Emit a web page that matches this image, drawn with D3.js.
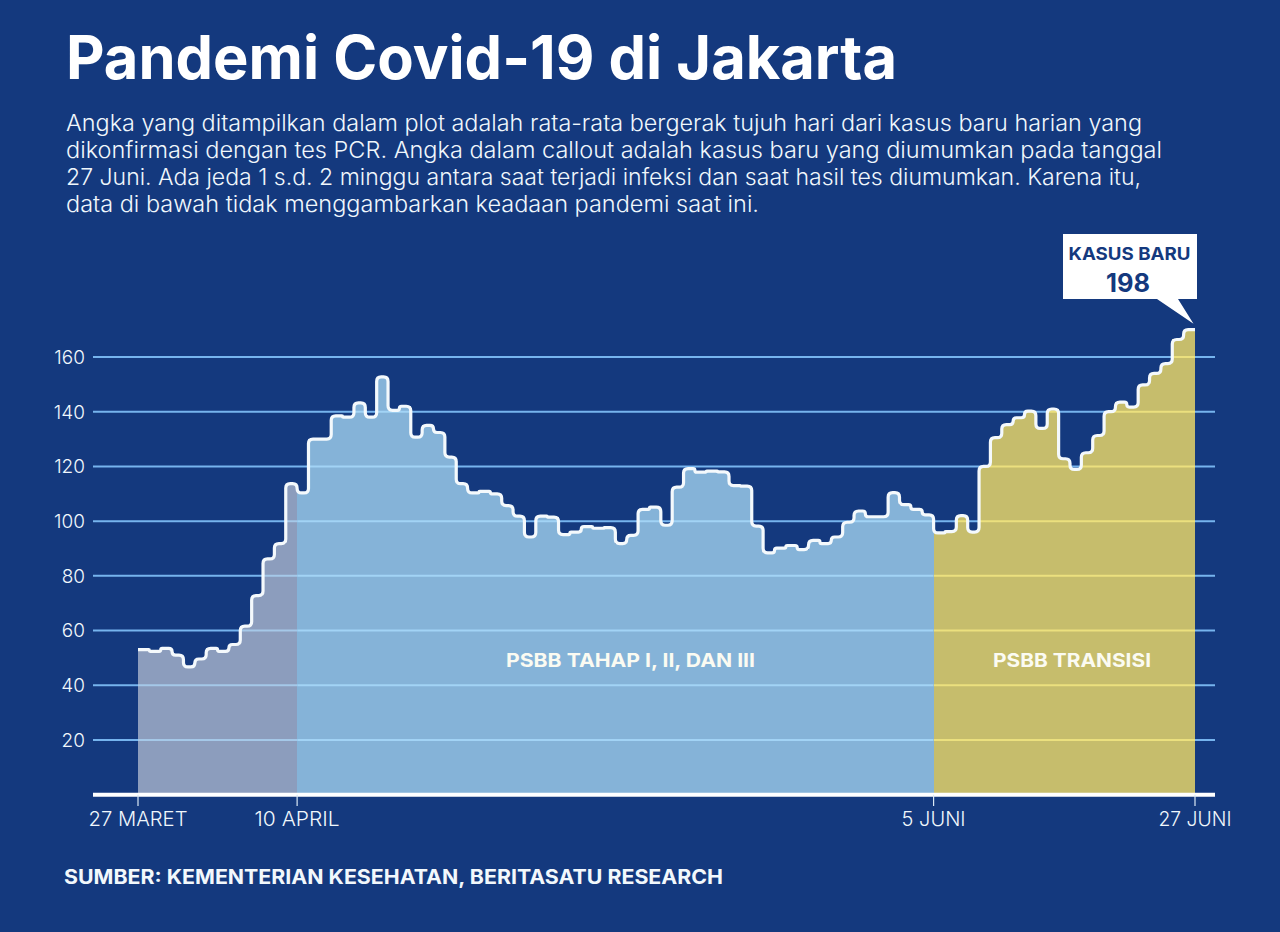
<!DOCTYPE html>
<html><head><meta charset="utf-8">
<script src="https://cdn.jsdelivr.net/npm/d3@7"></script>
<style>
html,body{margin:0;padding:0;background:#14397e;}
svg{display:block;}
text{font-family:Inter,Lato,"Open Sans",sans-serif;}
</style></head><body>
<svg id="c" width="1280" height="932"></svg>
<script>
const titleText = "Pandemi Covid-19 di Jakarta";
const bodyLines = [
 "Angka yang ditampilkan dalam plot adalah rata-rata bergerak tujuh hari dari kasus baru harian yang",
 "dikonfirmasi dengan tes PCR. Angka dalam callout adalah kasus baru yang diumumkan pada tanggal",
 "27 Juni. Ada jeda 1 s.d. 2 minggu antara saat terjadi infeksi dan saat hasil tes diumumkan. Karena itu,",
 "data di bawah tidak menggambarkan keadaan pandemi saat ini."
];
const sourceText = "SUMBER: KEMENTERIAN KESEHATAN, BERITASATU RESEARCH";
const dailyAverage = [
 53,52.4,53.5,51,46.7,49.6,53.5,52.4,54.9,61.6,72.8,86.2,91.8,113.7,
 110.3,130,130,138.5,138,143.2,138,152.7,140.5,142,130.7,135,132.4,123.4,113.7,110.3,110.9,110,105.7,101.8,94.2,
 101.8,101.5,95.1,96,98,97.4,97.6,91.8,94.8,104.3,105.1,98.5,112.4,119.2,117.9,118.3,118,113,112.8,98.2,88.4,90.1,91.1,89.6,93,91.8,94.2,99.6,103.7,101.6,101.6,110.4,106,104.3,102.3,
 95.7,96.2,102,96,120,130.5,135.3,137.8,140.2,133.9,141,122.8,118.9,125,131.3,140,143.5,141.7,149.8,154,157.6,166.4,170
];
const yTicks = [20,40,60,80,100,120,140,160];
const xTickDays = [0,14,70,93];
const xTickLabels = ["27 MARET","10 APRIL","5 JUNI","27 JUNI"];
const phaseStarts = [0,14,70];
const phaseEnds = [14,70,93];
const phaseFills = ["#8c9dbd","#85b3d8","#c6bd6c"];
const phaseGrid = ["#a5c8e8","#a2d3f5","#ebe07e"];
const phaseLabels = ["","PSBB TAHAP I, II, DAN III","PSBB TRANSISI"];
const calloutLabel = "KASUS BARU";
const calloutValue = "198";

const NAVY="#14397e", WHITE="#ffffff";
const svg=d3.select("#c");
const x=d3.scaleLinear().domain([0,93]).range([138,1195]);
const y=d3.scaleLinear().domain([0,160]).range([794.7,357]);
const pts=dailyAverage.map((v,i)=>({d:i,v}));
pts.push({d:dailyAverage.length,v:dailyAverage[dailyAverage.length-1]});

function fit(sel,w){ sel.attr("textLength",w).attr("lengthAdjust","spacingAndGlyphs"); return sel; }

// title + text
fit(svg.append("text").attr("x",66).attr("y",79).attr("fill",WHITE)
  .attr("font-size",60).attr("font-weight",700).text(titleText),831);
const bodyW=[1076,1096,1075,693];
bodyLines.forEach((t,i)=>{
  fit(svg.append("text").attr("x",66).attr("y",130.5+i*27.3).attr("fill","#f0f7fc")
    .attr("font-size",22.5).attr("font-weight",300).text(t),bodyW[i]);
});

// base grid
const gridG=svg.append("g");
gridG.selectAll("line").data(yTicks).join("line")
  .attr("x1",93).attr("x2",1215).attr("y1",d=>y(d)).attr("y2",d=>y(d))
  .attr("stroke","#76b4ee").attr("stroke-width",2);

// areas
const area=d3.area().x(d=>x(d.d)).y0(y(0)).y1(d=>y(d.v)).curve(d3.curveStepAfter);
const defs=svg.append("defs");
phaseStarts.forEach((s,i)=>{
  const slice=pts.slice(s,phaseEnds[i]);
  slice.push({d:phaseEnds[i],v:dailyAverage[phaseEnds[i]-1]});
  const d=area(slice);
  svg.append("path").attr("d",d).attr("fill",phaseFills[i]).attr("shape-rendering","crispEdges");
  defs.append("clipPath").attr("id","ph"+i).append("path").attr("d",d);
  svg.append("g").attr("clip-path",`url(#ph${i})`)
    .selectAll("line").data(yTicks).join("line")
    .attr("x1",x(s)).attr("x2",x(phaseEnds[i])).attr("y1",d=>y(d)).attr("y2",d=>y(d))
    .attr("stroke",phaseGrid[i]).attr("stroke-width",2);
});

// rounded step outline, built with d3.path from the scales
function roundedStep(data,r){
  const p=d3.path();
  const c=[];
  data.forEach((d,i)=>{
    if(i===0){c.push([x(d.d),y(d.v)]);return;}
    const prev=data[i-1];
    c.push([x(d.d),y(prev.v)]);
    c.push([x(d.d),y(d.v)]);
  });
  p.moveTo(c[0][0],c[0][1]);
  for(let i=1;i<c.length-1;i++){
    const a=c[i-1],b=c[i],n=c[i+1];
    const l1=Math.hypot(b[0]-a[0],b[1]-a[1]), l2=Math.hypot(n[0]-b[0],n[1]-b[1]);
    if(l1<0.01||l2<0.01){continue;}
    const rr=Math.min(r,l1/2,l2/2);
    p.lineTo(b[0]-(b[0]-a[0])/l1*rr,b[1]-(b[1]-a[1])/l1*rr);
    p.quadraticCurveTo(b[0],b[1],b[0]+(n[0]-b[0])/l2*rr,b[1]+(n[1]-b[1])/l2*rr);
  }
  const e=c[c.length-1];
  p.lineTo(e[0],e[1]);
  return p.toString();
}
svg.append("path").attr("d",roundedStep(pts,4.5)).attr("fill","none")
  .attr("stroke","#f4f9fc").attr("stroke-width",3.2).attr("stroke-linejoin","round");

// axis
svg.append("line").attr("x1",93).attr("x2",1215).attr("y1",y(0)).attr("y2",y(0))
  .attr("stroke",WHITE).attr("stroke-width",4);
svg.selectAll(".xt").data(xTickDays).join("line").attr("class","xt")
  .attr("x1",d=>x(d)).attr("x2",d=>x(d)).attr("y1",y(0)).attr("y2",806)
  .attr("stroke","#dbe9f5").attr("stroke-width",1.2);
const xlW=[99,85,64,73];
svg.selectAll(".xl").data(xTickDays).join("text").attr("class","xl")
  .attr("x",d=>x(d)).attr("y",826).attr("text-anchor","middle").attr("fill","#f0f7fc")
  .attr("font-size",19.5).attr("font-weight",300).attr("lengthAdjust","spacingAndGlyphs")
  .attr("textLength",(d,i)=>xlW[i]).text((d,i)=>xTickLabels[i]);
svg.selectAll(".yl").data(yTicks).join("text").attr("class","yl")
  .attr("x",85).attr("y",d=>y(d)+6.8).attr("text-anchor","end").attr("fill","#f0f7fc")
  .attr("font-size",19).attr("font-weight",300).text(d=>d);

// phase labels
const phaseW=[0,249,158];
phaseLabels.forEach((t,i)=>{ if(!t) return;
  fit(svg.append("text").attr("x",(i===1?630.5:1072)).attr("y",666.5).attr("text-anchor","middle")
    .attr("fill","#fbfbf2").attr("font-size",19).attr("font-weight",700).text(t),phaseW[i]);
});

// callout
const tipX=x(93)-1.5, tipY=y(170)-6;
svg.append("path").attr("fill",WHITE)
  .attr("d",d3.line()([[1063,234],[1197,234],[1197,299],[1178,299],[tipX,tipY],[1157,299],[1063,299]])+"Z");
fit(svg.append("text").attr("x",1129.5).attr("y",260).attr("text-anchor","middle").attr("fill",NAVY)
  .attr("font-size",17.5).attr("font-weight",700).text(calloutLabel),122);
fit(svg.append("text").attr("x",1128).attr("y",292).attr("text-anchor","middle").attr("fill",NAVY)
  .attr("font-size",25).attr("font-weight",700).text(calloutValue),44);

// source
fit(svg.append("text").attr("x",64).attr("y",884).attr("fill","#f2f8fc")
  .attr("font-size",20).attr("font-weight",700).text(sourceText),659);
</script>
</body></html>
